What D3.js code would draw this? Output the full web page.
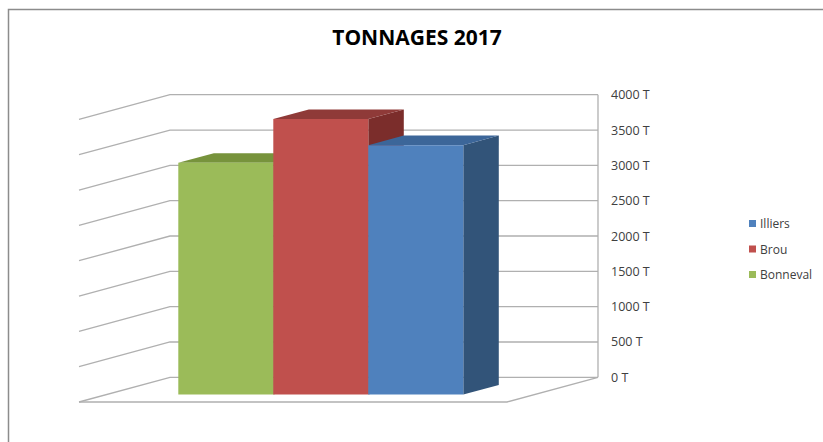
<!DOCTYPE html>
<html>
<head>
<meta charset="utf-8">
<script src="https://cdn.jsdelivr.net/npm/d3@7"></script>
<style>
  body { margin: 0; background: #fff; }
  text { font-family: "Open Sans", sans-serif; }
</style>
</head>
<body>
<div class="chart"></div>
<script>
// data
var sites = ["Bonneval", "Brou", "Illiers"];
var tonnages = [3280, 3900, 3530];
var legendOrder = ["Illiers", "Brou", "Bonneval"];
var yTicks = [0, 500, 1000, 1500, 2000, 2500, 3000, 3500, 4000];

var colors = {
  Bonneval: { front: "#9bbb59", top: "#77933c", side: "#68812f" },
  Brou: { front: "#c0504d", top: "#8f3a38", side: "#7b2d2b" },
  Illiers: { front: "#4f81bd", top: "#3c6699", side: "#325479" }
};

var svgWidth = 823;
var svgHeight = 442;

var svg = d3.select(".chart")
  .append("svg")
  .attr("width", svgWidth)
  .attr("height", svgHeight);

// chart border
svg.append("path")
  .attr("d", "M8.5,442 L8.5,9.5 L823,9.5")
  .attr("fill", "none")
  .attr("stroke", "#8c8c8c")
  .attr("stroke-width", 1.5);

// title
svg.append("text")
  .attr("x", 417)
  .attr("y", 45)
  .attr("text-anchor", "middle")
  .attr("font-size", "21px")
  .attr("font-weight", "bold")
  .attr("fill", "#000")
  .text("TONNAGES 2017");

// back wall scales + oblique depth vector (back -> front)
var backLeft = 170, backRight = 598;
var DX = -91, DY = 24.7;

var y = d3.scaleLinear()
  .domain([0, 4000])
  .range([377.3, 94.7]);

var x = d3.scaleBand()
  .domain(sites)
  .range([242, 527]);

function P(px, v, t) {
  return [px + t * DX, y(v) + t * DY];
}

var grid = svg.append("g")
  .attr("fill", "none")
  .attr("stroke", "#b0b0b0")
  .attr("stroke-width", 1.3);

// back wall lines + left wall diagonals
yTicks.forEach(function(v) {
  var a = P(backLeft, v, 0), b = P(backRight, v, 0), c = P(backLeft, v, 1);
  grid.append("path").attr("d", "M" + c + "L" + a + "L" + b);
});

// right edge of back wall and floor outline
var r0 = P(backRight, 0, 0), r1 = P(backRight, 4000, 0);
grid.append("path").attr("d", "M" + r1 + "L" + r0);
var f0 = P(backLeft, 0, 1), f1 = P(backRight, 0, 1);
grid.append("path").attr("d", "M" + f0 + "L" + f1 + "L" + r0);

// y axis labels
var rightAxis = d3.axisRight(y)
  .tickValues(yTicks)
  .tickSize(0)
  .tickPadding(13)
  .tickFormat(function(d) { return d + " T"; });

var axisG = svg.append("g")
  .attr("transform", "translate(" + backRight + ",0)")
  .call(rightAxis);
axisG.select(".domain").remove();
axisG.selectAll("text")
  .attr("font-family", "Open Sans, sans-serif")
  .attr("font-size", "12.5px")
  .attr("fill", "#404040");

// bars
var tf = 0.70, tb = 0.31;

function poly(pts) {
  return "M" + pts.join("L") + "Z";
}

var bars = svg.selectAll(".bar")
  .data(sites.map(function(s, i) { return { name: s, value: tonnages[i] }; }))
  .enter()
  .append("g")
  .attr("class", "bar");

bars.append("path")
  .attr("d", function(d) {
    var x1 = x(d.name) + x.bandwidth();
    return poly([P(x1, 0, tf), P(x1, 0, tb), P(x1, d.value, tb), P(x1, d.value, tf)]);
  })
  .attr("fill", function(d) { return colors[d.name].side; });

bars.append("path")
  .attr("d", function(d) {
    var x0 = x(d.name), x1 = x0 + x.bandwidth();
    return poly([P(x0, d.value, tf), P(x1, d.value, tf), P(x1, d.value, tb), P(x0, d.value, tb)]);
  })
  .attr("fill", function(d) { return colors[d.name].top; });

bars.append("path")
  .attr("d", function(d) {
    var x0 = x(d.name), x1 = x0 + x.bandwidth();
    return poly([P(x0, 0, tf), P(x1, 0, tf), P(x1, d.value, tf), P(x0, d.value, tf)]);
  })
  .attr("fill", function(d) { return colors[d.name].front; });

// legend
var legend = svg.selectAll(".legend")
  .data(legendOrder)
  .enter()
  .append("g")
  .attr("class", "legend")
  .attr("transform", function(d, i) { return "translate(749," + (220 + i * 25.5) + ")"; });

legend.append("rect")
  .attr("width", 7)
  .attr("height", 7)
  .attr("fill", function(d) { return colors[d].front; });

legend.append("text")
  .attr("x", 11)
  .attr("y", 8)
  .attr("font-size", "12px")
  .attr("fill", "#404040")
  .text(function(d) { return d; });
</script>
</body>
</html>
